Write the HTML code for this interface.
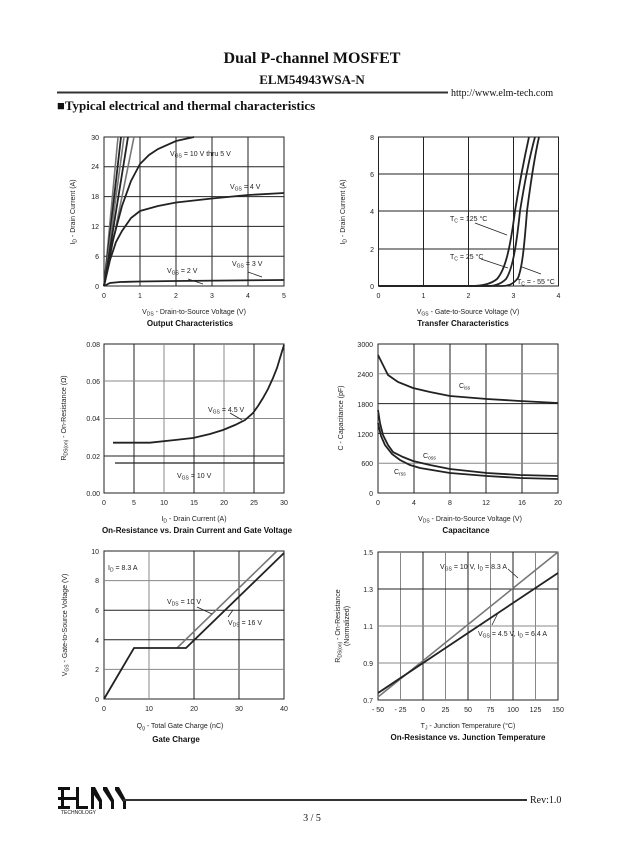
<!DOCTYPE html>
<html><head><meta charset="utf-8"><style>
html,body{margin:0;padding:0;background:#fff}
svg{display:block}
.t{font-family:"Liberation Sans",sans-serif;font-size:7px;fill:#222}
.b{font-family:"Liberation Sans",sans-serif;font-size:8px;font-weight:bold;fill:#111}
.s{font-family:"Liberation Serif",serif;fill:#111}
.g1{stroke:#222;stroke-width:1}
.g2{stroke:#888;stroke-width:1}
.c{fill:none;stroke:#222;stroke-width:1.8}
.cg{fill:none;stroke:#777;stroke-width:1.6}
.a{stroke:#222;stroke-width:0.8}
</style></head><body>
<svg width="624" height="865" viewBox="0 0 624 865" xmlns="http://www.w3.org/2000/svg">
<!-- header -->
<text class="s" x="312" y="63" font-size="16" font-weight="bold" text-anchor="middle">Dual P-channel MOSFET</text>
<text class="s" x="312" y="84" font-size="13" font-weight="bold" text-anchor="middle">ELM54943WSA-N</text>
<line x1="57" y1="92.5" x2="448" y2="92.5" stroke="#333" stroke-width="2"/>
<text class="s" x="451" y="96" font-size="10">http://www.elm-tech.com</text>
<text class="s" x="57" y="110" font-size="13" font-weight="bold">■Typical electrical and thermal characteristics</text>

<!-- chart 1 -->
<g>
<rect x="104" y="137" width="180" height="149" fill="none" stroke="#222"/>
<line class="g1" x1="140" y1="137" x2="140" y2="286"/><line class="g1" x1="176" y1="137" x2="176" y2="286"/><line class="g1" x1="212" y1="137" x2="212" y2="286"/><line class="g1" x1="248" y1="137" x2="248" y2="286"/>
<line class="g1" x1="104" y1="166.8" x2="284" y2="166.8"/><line class="g1" x1="104" y1="196.6" x2="284" y2="196.6"/><line class="g1" x1="104" y1="226.4" x2="284" y2="226.4"/><line class="g1" x1="104" y1="256.2" x2="284" y2="256.2"/>
<line class="cg" x1="104" y1="286" x2="118" y2="137"/><line class="c" x1="104" y1="286" x2="121" y2="137"/><line class="cg" x1="104" y1="286" x2="124" y2="137"/><line class="c" x1="104" y1="286" x2="128" y2="137"/><line class="cg" x1="104" y1="286" x2="134" y2="137"/>
<polyline class="c" points="104,286 113,240 122,206 131,181 140,164 149,155 158,149 176,141 194,137"/>
<polyline class="c" points="104,286 110,260 116,242 122,231 131,218 140,211 158,206 176,202.5 212,198.5 248,195 284,193"/>
<polyline class="c" points="104,286 110,283 120,282 140,281.5 176,281 284,280"/>
<line class="a" x1="188" y1="279" x2="203" y2="284"/><line class="a" x1="248" y1="272" x2="262" y2="277"/>
<text class="t" x="170" y="156">V<tspan font-size="5" dy="1.5">GS</tspan><tspan dy="-1.5"> = 10 V thru 5 V</tspan></text>
<text class="t" x="230" y="189">V<tspan font-size="5" dy="1.5">GS</tspan><tspan dy="-1.5"> = 4 V</tspan></text>
<text class="t" x="167" y="273">V<tspan font-size="5" dy="1.5">GS</tspan><tspan dy="-1.5"> = 2 V</tspan></text>
<text class="t" x="232" y="266">V<tspan font-size="5" dy="1.5">GS</tspan><tspan dy="-1.5"> = 3 V</tspan></text>
<g class="t" text-anchor="end"><text x="99" y="140">30</text><text x="99" y="169">24</text><text x="99" y="199">18</text><text x="99" y="229">12</text><text x="99" y="259">6</text><text x="99" y="289">0</text></g>
<g class="t" text-anchor="middle"><text x="104" y="298">0</text><text x="140" y="298">1</text><text x="176" y="298">2</text><text x="212" y="298">3</text><text x="248" y="298">4</text><text x="284" y="298">5</text></g>
<text class="t" x="194" y="314" text-anchor="middle">V<tspan font-size="5" dy="1.5">DS</tspan><tspan dy="-1.5"> - Drain-to-Source Voltage (V)</tspan></text>
<text class="b" x="190" y="326" text-anchor="middle">Output Characteristics</text>
<text class="t" transform="translate(75,212) rotate(-90)" text-anchor="middle">I<tspan font-size="5" dy="1.5">D</tspan><tspan dy="-1.5"> - Drain Current (A)</tspan></text>
</g>

<!-- chart 2 -->
<g>
<rect x="378.5" y="137" width="180" height="149" fill="none" stroke="#222"/>
<line class="g1" x1="423.5" y1="137" x2="423.5" y2="286"/><line class="g1" x1="468.5" y1="137" x2="468.5" y2="286"/><line class="g1" x1="513.5" y1="137" x2="513.5" y2="286"/>
<line class="g1" x1="378.5" y1="174" x2="558.5" y2="174"/><line class="g1" x1="378.5" y1="211" x2="558.5" y2="211"/><line class="g1" x1="378.5" y1="249" x2="558.5" y2="249"/>
<path class="c" d="M378.5,286 L470,286 C485,286 492,283 497,279 C505,270 510,250 515,211 C520,180 525,155 529,137"/>
<path class="c" d="M378.5,286 L488,286 C497,286 502,283 506,279 C512,270 516,250 520,211 C525,180 530,155 535,137"/>
<path class="c" d="M378.5,286 L502,286 C510,286 514,283 518,278 C522,268 524,250 527,211 C531,180 535,155 539,137"/>
<line class="a" x1="475" y1="223" x2="507" y2="235"/><line class="a" x1="481" y1="259" x2="508" y2="268"/><line class="a" x1="541" y1="274" x2="522" y2="267"/>
<text class="t" x="450" y="221">T<tspan font-size="5" dy="1.5">C</tspan><tspan dy="-1.5"> = 125 °C</tspan></text>
<text class="t" x="450" y="259">T<tspan font-size="5" dy="1.5">C</tspan><tspan dy="-1.5"> = 25 °C</tspan></text>
<text class="t" x="517" y="284">T<tspan font-size="5" dy="1.5">C</tspan><tspan dy="-1.5"> = - 55 °C</tspan></text>
<g class="t" text-anchor="end"><text x="374" y="140">8</text><text x="374" y="177">6</text><text x="374" y="214">4</text><text x="374" y="252">2</text><text x="374" y="289">0</text></g>
<g class="t" text-anchor="middle"><text x="378.5" y="298">0</text><text x="423.5" y="298">1</text><text x="468.5" y="298">2</text><text x="513.5" y="298">3</text><text x="558.5" y="298">4</text></g>
<text class="t" x="468" y="314" text-anchor="middle">V<tspan font-size="5" dy="1.5">GS</tspan><tspan dy="-1.5"> - Gate-to-Source Voltage (V)</tspan></text>
<text class="b" x="463" y="326" text-anchor="middle">Transfer Characteristics</text>
<text class="t" transform="translate(345,212) rotate(-90)" text-anchor="middle">I<tspan font-size="5" dy="1.5">D</tspan><tspan dy="-1.5"> - Drain Current (A)</tspan></text>
</g>

<!-- chart 3 -->
<g>
<rect x="104" y="344" width="180" height="149" fill="none" stroke="#222"/>
<line class="g1" x1="134" y1="344" x2="134" y2="493"/><line class="g2" x1="164" y1="344" x2="164" y2="493"/><line class="g1" x1="194" y1="344" x2="194" y2="493"/><line class="g2" x1="224" y1="344" x2="224" y2="493"/><line class="g1" x1="254" y1="344" x2="254" y2="493"/>
<line class="g2" x1="104" y1="381" x2="284" y2="381"/><line class="g2" x1="104" y1="418.5" x2="284" y2="418.5"/><line class="g1" x1="104" y1="456" x2="284" y2="456"/>
<polyline class="c" points="113,442.7 150,442.7 175,440 193,438 210,434 223,430 235,425 245,420 253,413 258,406 263,398 268,389 273,378 277,368 280,358 284,345"/>
<line x1="115" y1="463" x2="284" y2="463" stroke="#222" stroke-width="1.2"/>
<line class="a" x1="230" y1="413" x2="242" y2="420"/>
<text class="t" x="208" y="412">V<tspan font-size="5" dy="1.5">GS</tspan><tspan dy="-1.5"> = 4.5 V</tspan></text>
<text class="t" x="177" y="478">V<tspan font-size="5" dy="1.5">GS</tspan><tspan dy="-1.5"> = 10 V</tspan></text>
<g class="t" text-anchor="end"><text x="100" y="347">0.08</text><text x="100" y="384">0.06</text><text x="100" y="421">0.04</text><text x="100" y="459">0.02</text><text x="100" y="496">0.00</text></g>
<g class="t" text-anchor="middle"><text x="104" y="505">0</text><text x="134" y="505">5</text><text x="164" y="505">10</text><text x="194" y="505">15</text><text x="224" y="505">20</text><text x="254" y="505">25</text><text x="284" y="505">30</text></g>
<text class="t" x="194" y="521" text-anchor="middle">I<tspan font-size="5" dy="1.5">D</tspan><tspan dy="-1.5"> - Drain Current (A)</tspan></text>
<text class="b" x="197" y="533" text-anchor="middle">On-Resistance vs. Drain Current and Gate Voltage</text>
<text class="t" transform="translate(66,418) rotate(-90)" text-anchor="middle">R<tspan font-size="5" dy="1.5">DS(on)</tspan><tspan dy="-1.5"> - On-Resistance (Ω)</tspan></text>
</g>

<!-- chart 4 -->
<g>
<rect x="378" y="344" width="180" height="149" fill="none" stroke="#222"/>
<line class="g1" x1="414" y1="344" x2="414" y2="493"/><line class="g1" x1="450" y1="344" x2="450" y2="493"/><line class="g1" x1="486" y1="344" x2="486" y2="493"/><line class="g1" x1="522" y1="344" x2="522" y2="493"/>
<line class="g2" x1="378" y1="373.8" x2="558" y2="373.8"/><line class="g1" x1="378" y1="403.6" x2="558" y2="403.6"/><line class="g1" x1="378" y1="433.4" x2="558" y2="433.4"/><line class="g2" x1="378" y1="463.2" x2="558" y2="463.2"/>
<polyline class="c" points="378,355 382,363 388,375 398,382 413,388 430,392 450,396 487,399 520,401 558,403"/>
<polyline class="c" points="378,410 380,423 383,435 388,445 393,452 403,457 413,461 430,465 450,469 487,473 520,475 558,476"/>
<polyline class="c" points="378,423 381,436 385,445 392,454 400,460 410,465 420,468 450,473 487,476 520,478 558,479"/>
<text class="t" x="459" y="388">C<tspan font-size="5" dy="1.5">iss</tspan></text>
<text class="t" x="423" y="458">C<tspan font-size="5" dy="1.5">oss</tspan></text>
<text class="t" x="394" y="474">C<tspan font-size="5" dy="1.5">rss</tspan></text>
<g class="t" text-anchor="end"><text x="373" y="347">3000</text><text x="373" y="377">2400</text><text x="373" y="407">1800</text><text x="373" y="437">1200</text><text x="373" y="466">600</text><text x="373" y="496">0</text></g>
<g class="t" text-anchor="middle"><text x="378" y="505">0</text><text x="414" y="505">4</text><text x="450" y="505">8</text><text x="486" y="505">12</text><text x="522" y="505">16</text><text x="558" y="505">20</text></g>
<text class="t" x="470" y="521" text-anchor="middle">V<tspan font-size="5" dy="1.5">DS</tspan><tspan dy="-1.5"> - Drain-to-Source Voltage (V)</tspan></text>
<text class="b" x="466" y="533" text-anchor="middle">Capacitance</text>
<text class="t" transform="translate(343,418) rotate(-90)" text-anchor="middle">C - Capacitance (pF)</text>
</g>

<!-- chart 5 -->
<g>
<rect x="104" y="551" width="180" height="148" fill="none" stroke="#222"/>
<line class="g2" x1="149" y1="551" x2="149" y2="699"/><line class="g1" x1="194" y1="551" x2="194" y2="699"/><line class="g1" x1="239" y1="551" x2="239" y2="699"/>
<line class="g2" x1="104" y1="580.6" x2="284" y2="580.6"/><line class="g1" x1="104" y1="610.2" x2="284" y2="610.2"/><line class="g1" x1="104" y1="639.8" x2="284" y2="639.8"/><line class="g2" x1="104" y1="669.4" x2="284" y2="669.4"/>
<line class="cg" x1="177" y1="648" x2="277" y2="551"/>
<polyline class="c" points="104,699 134,648 186,648 284,553"/>
<line class="a" x1="197" y1="607" x2="212" y2="614"/><line class="a" x1="228" y1="617" x2="233" y2="610"/>
<text class="t" x="108" y="570">I<tspan font-size="5" dy="1.5">D</tspan><tspan dy="-1.5"> = 8.3 A</tspan></text>
<text class="t" x="167" y="604">V<tspan font-size="5" dy="1.5">DS</tspan><tspan dy="-1.5"> = 10 V</tspan></text>
<text class="t" x="228" y="625">V<tspan font-size="5" dy="1.5">DS</tspan><tspan dy="-1.5"> = 16 V</tspan></text>
<g class="t" text-anchor="end"><text x="99" y="554">10</text><text x="99" y="583">8</text><text x="99" y="613">6</text><text x="99" y="643">4</text><text x="99" y="672">2</text><text x="99" y="702">0</text></g>
<g class="t" text-anchor="middle"><text x="104" y="711">0</text><text x="149" y="711">10</text><text x="194" y="711">20</text><text x="239" y="711">30</text><text x="284" y="711">40</text></g>
<text class="t" x="180" y="728" text-anchor="middle">Q<tspan font-size="5" dy="1.5">g</tspan><tspan dy="-1.5"> - Total Gate Charge (nC)</tspan></text>
<text class="b" x="176" y="742" text-anchor="middle">Gate Charge</text>
<text class="t" transform="translate(67,625) rotate(-90)" text-anchor="middle">V<tspan font-size="5" dy="1.5">GS</tspan><tspan dy="-1.5"> - Gate-to-Source Voltage (V)</tspan></text>
</g>

<!-- chart 6 -->
<g>
<rect x="378" y="552" width="180" height="148" fill="none" stroke="#222"/>
<line class="g2" x1="400.5" y1="552" x2="400.5" y2="700"/><line class="g1" x1="423" y1="552" x2="423" y2="700"/><line class="g2" x1="445.5" y1="552" x2="445.5" y2="700"/><line class="g1" x1="468" y1="552" x2="468" y2="700"/><line class="g2" x1="490.5" y1="552" x2="490.5" y2="700"/><line class="g1" x1="513" y1="552" x2="513" y2="700"/><line class="g2" x1="535.5" y1="552" x2="535.5" y2="700"/>
<line class="g1" x1="378" y1="589" x2="558" y2="589"/><line class="g2" x1="378" y1="626" x2="558" y2="626"/><line class="g2" x1="378" y1="663" x2="558" y2="663"/>
<line class="cg" x1="378" y1="697" x2="558" y2="552"/>
<line class="c" x1="378" y1="693" x2="558" y2="573"/>
<line class="a" x1="508" y1="569" x2="518" y2="578"/><line class="a" x1="492" y1="625" x2="498" y2="613"/>
<text class="t" x="440" y="569">V<tspan font-size="5" dy="1.5">GS</tspan><tspan dy="-1.5"> = 10 V, I</tspan><tspan font-size="5" dy="1.5">D</tspan><tspan dy="-1.5"> = 8.3 A</tspan></text>
<text class="t" x="478" y="636">V<tspan font-size="5" dy="1.5">GS</tspan><tspan dy="-1.5"> = 4.5 V, I</tspan><tspan font-size="5" dy="1.5">D</tspan><tspan dy="-1.5"> = 6.4 A</tspan></text>
<g class="t" text-anchor="end"><text x="373" y="555">1.5</text><text x="373" y="592">1.3</text><text x="373" y="629">1.1</text><text x="373" y="666">0.9</text><text x="373" y="703">0.7</text></g>
<g class="t" text-anchor="middle"><text x="378" y="712">- 50</text><text x="400.5" y="712">- 25</text><text x="423" y="712">0</text><text x="445.5" y="712">25</text><text x="468" y="712">50</text><text x="490.5" y="712">75</text><text x="513" y="712">100</text><text x="535.5" y="712">125</text><text x="558" y="712">150</text></g>
<text class="t" x="468" y="728" text-anchor="middle">T<tspan font-size="5" dy="1.5">J</tspan><tspan dy="-1.5"> - Junction Temperature (°C)</tspan></text>
<text class="b" x="468" y="740" text-anchor="middle">On-Resistance vs. Junction Temperature</text>
<text class="t" transform="translate(340,626) rotate(-90)" text-anchor="middle">R<tspan font-size="5" dy="1.5">DS(on)</tspan><tspan dy="-1.5"> - On-Resistance</tspan></text>
<text class="t" transform="translate(349,626) rotate(-90)" text-anchor="middle">(Normalized)</text>
</g>

<!-- footer -->
<g fill="#111">
<rect x="58" y="787" width="12" height="3"/><rect x="58" y="797" width="18" height="3"/><rect x="58" y="806" width="12" height="3"/><rect x="61" y="787" width="3" height="22"/>
<rect x="76" y="787" width="3" height="22"/><rect x="76" y="806" width="12" height="3"/>
<polygon points="91,809 91,787 95,787 102,800 102,809 99,809 99,802 94,795 94,809"/>
<polygon points="103,787 107,787 114,800 114,809 111,809 111,802 103,790"/>
<polygon points="115,787 119,787 126,800 126,809 123,809 123,802 115,790"/>
<text x="61" y="814" font-family="Liberation Sans,sans-serif" font-size="5">TECHNOLOGY</text>
</g>
<line x1="123" y1="800" x2="527" y2="800" stroke="#333" stroke-width="2"/>
<text class="s" x="530" y="803" font-size="10">Rev:1.0</text>
<text class="s" x="312" y="821" font-size="10" text-anchor="middle">3 / 5</text>
</svg>
</body></html>
